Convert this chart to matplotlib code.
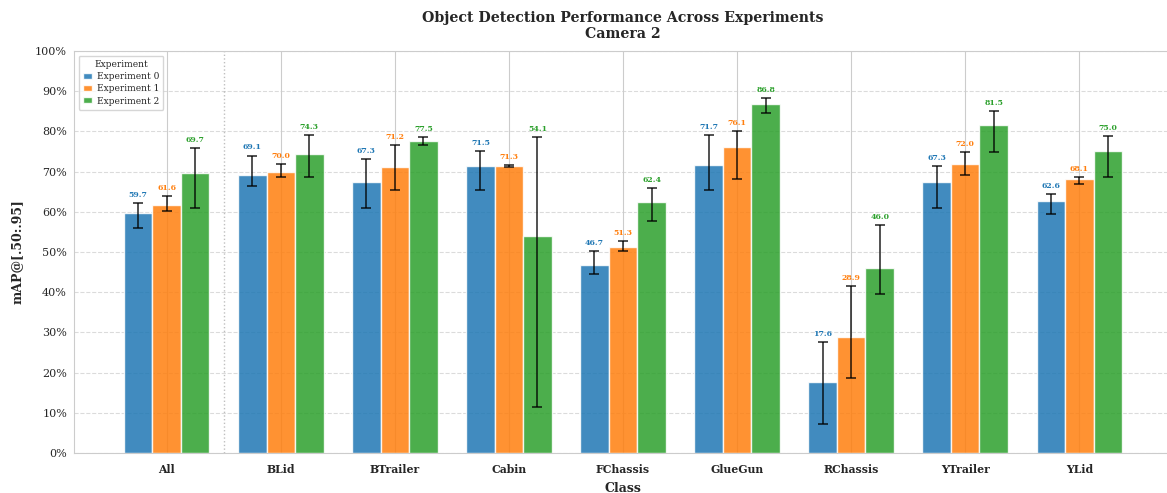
import numpy as np
import matplotlib
matplotlib.use("Agg")
import matplotlib.pyplot as plt
import seaborn as sns

# mAP@[.50:.95] per class for camera 2, three experiments (percent)
classes = ["All", "BLid", "BTrailer", "Cabin", "FChassis", "GlueGun", "RChassis", "YTrailer", "YLid"]
experiments = ["Experiment 0", "Experiment 1", "Experiment 2"]

exp0_map = [59.7, 69.1, 67.3, 71.5, 46.7, 71.7, 17.6, 67.3, 62.6]
exp1_map = [61.6, 70.0, 71.2, 71.3, 51.3, 76.1, 28.9, 72.0, 68.1]
exp2_map = [69.7, 74.3, 77.5, 54.1, 62.4, 86.8, 46.0, 81.5, 75.0]

# error bar ranges (low / high) for each experiment
exp0_low = [55.9, 66.5, 60.9, 65.5, 44.6, 65.5, 7.3, 60.9, 59.5]
exp0_high = [62.3, 74.0, 73.2, 75.0, 50.3, 79.1, 27.7, 71.4, 64.4]
exp1_low = [60.3, 68.7, 65.5, 71.1, 50.2, 68.2, 18.6, 69.2, 67.0]
exp1_high = [63.9, 71.8, 76.5, 71.6, 52.8, 80.2, 41.6, 74.9, 68.7]
exp2_low = [60.9, 68.6, 76.6, 11.4, 57.7, 84.7, 39.6, 74.9, 68.7]
exp2_high = [75.9, 79.2, 78.7, 78.5, 65.8, 88.3, 56.8, 85.1, 78.9]

colors = ["#1f77b4", "#ff7f0e", "#2ca02c"]

sns.set_style("whitegrid")
plt.rcParams["font.family"] = ["DejaVu Serif"]

fig = plt.figure(figsize=(11.67, 4.93), dpi=100)
ax = fig.add_axes([74 / 1167, 40 / 493, 1098 / 1167, 402 / 493])

x = np.arange(len(classes))
width = 0.25
series = [
    (exp0_map, exp0_low, exp0_high),
    (exp1_map, exp1_low, exp1_high),
    (exp2_map, exp2_low, exp2_high),
]

for i, (vals, low, high) in enumerate(series):
    vals = np.array(vals)
    low = np.array(low)
    high = np.array(high)
    pos = x + (i - 1) * width
    ax.bar(pos, vals, width, color=colors[i], alpha=0.85, edgecolor="white",
           linewidth=1, label=experiments[i], zorder=2)
    yerr = np.vstack([vals - low, high - vals])
    ax.errorbar(pos, vals, yerr=yerr, fmt="none", ecolor="black", elinewidth=1.2,
                capsize=3.5, capthick=1.2, alpha=0.8, zorder=3)
    for p, v, h in zip(pos, vals, high):
        ax.text(p, h + 1.0, f"{v:.1f}", ha="center", va="bottom", fontsize=5.6,
                fontweight="bold", color=colors[i], zorder=4)

ax.axvline(0.5, color="gray", linestyle=":", linewidth=1, alpha=0.5, zorder=1)

ax.set_xlim(-0.8125, 8.8125)
ax.set_ylim(0, 100)
ax.set_yticks(np.arange(0, 101, 10))
ax.set_yticklabels([f"{v}%" for v in range(0, 101, 10)], fontsize=8)
ax.set_xticks(x)
ax.set_xticklabels(classes, fontsize=7.8, fontweight="bold")
ax.grid(True, axis="y", linestyle="--", alpha=0.7)
ax.tick_params(axis="y", length=0, pad=5)
ax.tick_params(axis="x", length=0, pad=8)

ax.set_xlabel("Class", fontsize=9, fontweight="bold", labelpad=5)
ax.set_ylabel("mAP@[.50:.95]", fontsize=9, fontweight="bold", labelpad=8)
ax.set_title("Object Detection Performance Across Experiments\nCamera 2",
             fontsize=10.2, fontweight="bold", pad=9)

leg = ax.legend(title="Experiment", loc="upper left", fontsize=6.5, title_fontsize=6.5,
                frameon=True, borderpad=0.5, handlelength=1.0, handleheight=0.6,
                handletextpad=0.5, labelspacing=0.35, borderaxespad=0.5)

fig.savefig("out.png", dpi=100)
